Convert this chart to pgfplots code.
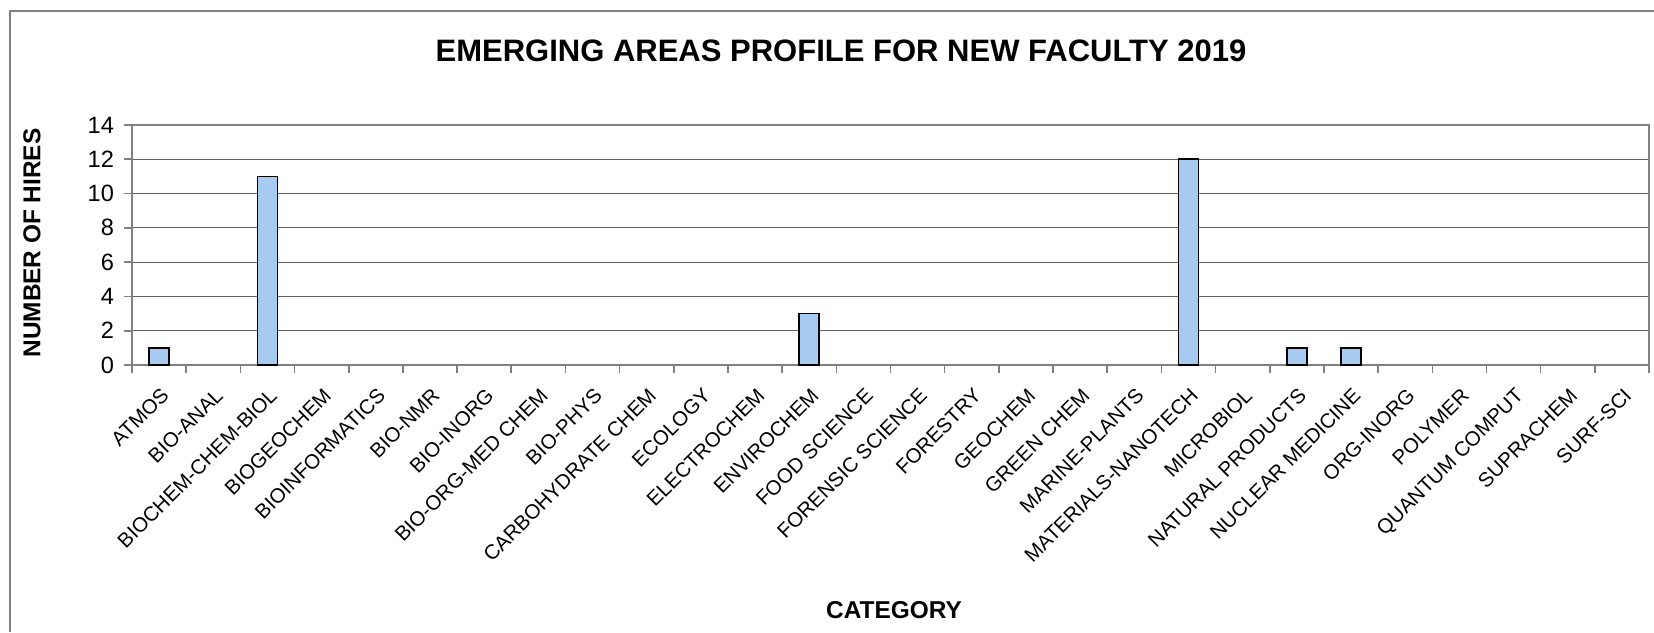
\documentclass[border=0pt]{standalone}
\usepackage{fontspec}
\setmainfont{Liberation Sans}
\usepackage{pgfplots}
\pgfplotsset{compat=1.18}
\definecolor{barblue}{RGB}{166,202,240}
\definecolor{gridc}{RGB}{96,96,96}
\definecolor{framec}{RGB}{128,128,128}
\begin{document}
\begin{tikzpicture}
\useasboundingbox (0,0) rectangle (827pt,316pt);
\draw[framec, line width=0.9pt] (5pt,0) -- (5pt,310.5pt) -- (827pt,310.5pt);
\begin{axis}[
  at={(66pt,133.5pt)}, anchor=south west,
  scale only axis, width=758.5pt, height=120pt,
  xmin=-0.5, xmax=27.5, ymin=0, ymax=14,
  ytick={0,2,...,14},
  xtick={0,...,27},
  xticklabels={ATMOS, BIO-ANAL, BIOCHEM-CHEM-BIOL, BIOGEOCHEM, BIOINFORMATICS, BIO-NMR, BIO-INORG, BIO-ORG-MED CHEM, BIO-PHYS, CARBOHYDRATE CHEM, ECOLOGY, ELECTROCHEM, ENVIROCHEM, FOOD SCIENCE, FORENSIC SCIENCE, FORESTRY, GEOCHEM, GREEN CHEM, MARINE-PLANTS, MATERIALS-NANOTECH, MICROBIOL, NATURAL PRODUCTS, NUCLEAR MEDICINE, ORG-INORG, POLYMER, QUANTUM COMPUT, SUPRACHEM, SURF-SCI},
  minor xtick={-0.5,0.5,...,27.5},
  every major x tick/.append style={draw=none},
  tick pos=left,
  tick align=outside,
  major tick length=4pt, minor tick length=4pt,
  tick style={framec, line width=0.8pt},
  ymajorgrids, grid style={gridc, line width=0.6pt},
  axis line style={framec, line width=0.8pt},
  /pgf/number format/assume math mode=true,
  yticklabel style={font=\fontsize{11.8}{13}\selectfont, xshift=-1.5pt},
  xticklabel style={font=\fontsize{10.2}{12}\selectfont, rotate=45, anchor=north east, inner sep=1pt, xshift=-3.5pt, yshift=-4pt},
  ybar, bar width=10pt,
  restrict y to domain=0.01:100,
]
\addplot[fill=barblue, draw=black, line width=0.8pt] coordinates {
(0,1) (1,0) (2,11) (3,0) (4,0) (5,0) (6,0) (7,0) (8,0) (9,0)
(10,0) (11,0) (12,3) (13,0) (14,0) (15,0) (16,0) (17,0) (18,0) (19,12)
(20,0) (21,1) (22,1) (23,0) (24,0) (25,0) (26,0) (27,0)};
\end{axis}
\node[font=\fontsize{15.5}{18}\selectfont\bfseries] at (420.5pt,290.5pt) {EMERGING AREAS PROFILE FOR NEW FACULTY 2019};
\node[rotate=90, font=\fontsize{12.2}{14}\selectfont\bfseries] at (16pt,194.5pt) {NUMBER OF HIRES};
\node[font=\fontsize{12.2}{14}\selectfont\bfseries] at (447pt,11pt) {CATEGORY};
\end{tikzpicture}
\end{document}
